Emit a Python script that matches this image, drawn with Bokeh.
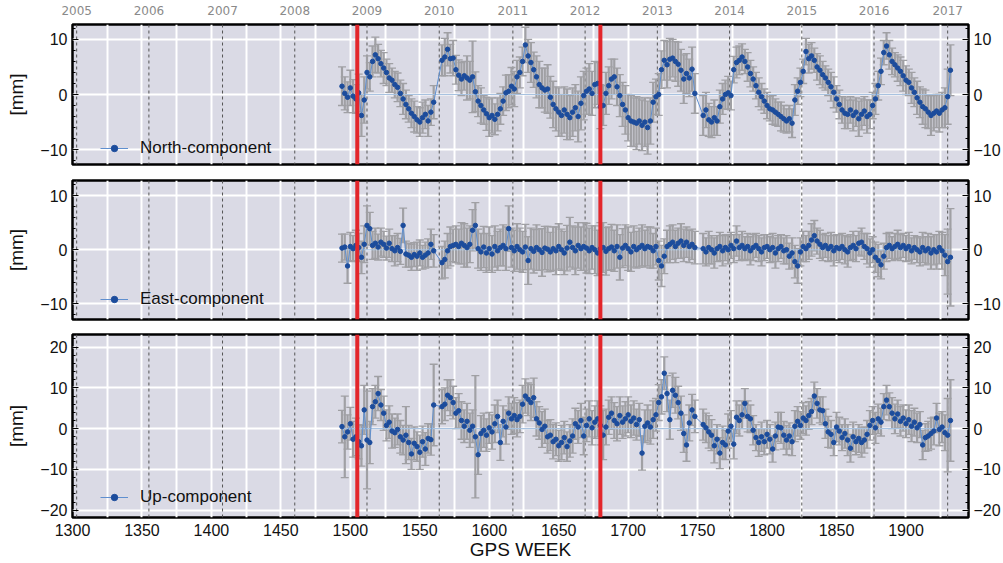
from bokeh.plotting import figure
from bokeh.layouts import column
from bokeh.models import (ColumnDataSource, Range1d, LinearAxis, Grid, SingleIntervalTicker,
                          FixedTicker, Span, Whisker, TeeHead, Legend, LegendItem)
from bokeh.embed import file_html
from bokeh.resources import INLINE

# ---------------- data ----------------
weeks = list(range(1494, 1561, 2)) + list(range(1566, 1749, 2)) + list(range(1754, 1933, 2))

north_a = [1.5, 0.2, -0.5, 1.2, -0.3, -0.8, 0.3, -3.8, -1.0, 4.0,
           3.2, 6.0, 7.2, 6.5, 5.6, 4.8, 4.0, 3.0, 2.6, 1.8,
           1.3, 0.2, -0.8, -1.8, -2.6, -3.4, -4.0, -4.6, -5.0, -4.2,
           -3.6, -4.8, -3.2, -1.4]
north_b = [6.2, 6.8, 8.2, 6.5, 6.6, 4.5, 3.5, 2.8, 3.4, 3.0,
           2.6, 3.2, 0.5, -1.2, -2.0, -2.8, -3.5, -4.2, -3.8, -4.5,
           -3.6, -2.6, -1.2, 0.3, 0.6, 1.5, 1.0, 3.2, 4.0, 6.0,
           9.0, 7.0, 5.8, 4.5, 3.2, 1.8, 1.2, 0.8, 1.0, -0.5,
           -1.8, -2.6, -3.2, -3.8, -2.8, -3.6, -4.2, -3.2, -2.4, -4.0,
           -1.6, -0.2, 0.6, 1.0, 0.2, 1.8, 2.0, -2.2, -2.0, 0.2,
           1.6, 2.8, 3.2, 1.4, -0.2, -1.8, -2.8, -4.2, -4.8, -5.0,
           -5.2, -4.8, -5.6, -5.0, -6.0, -4.8, -1.4, -0.4, 0.0, 4.5,
           6.2, 5.4, 6.4, 6.6, 6.0, 5.5, 4.4, 2.8, 3.8, 3.0,
           4.6, 0.2]
north_c = [-3.8, -2.8, -4.6, -5.0, -4.2, -4.8, -2.2, -0.8, 0.0, 0.3,
           -0.2, 4.5, 5.8, 6.2, 6.8, 6.0, 5.0, 3.8, 2.8, 1.6,
           0.4, -0.4, -1.2, -2.0, -2.6, -2.8, -3.2, -3.6, -4.0, -4.4,
           -4.8, -4.4, -5.2, -1.0, 0.6, 2.2, 4.2, 7.8, 6.5, 7.0,
           6.2, 5.0, 4.4, 3.6, 3.0, 2.2, 1.4, 0.4, -0.8, -1.8,
           -2.8, -3.4, -3.6, -2.8, -3.8, -3.2, -4.4, -3.6, -3.0, -4.0,
           -3.6, -2.0, -0.8, 1.6, 4.2, 7.6, 8.8, 7.2, 6.0, 5.4,
           4.8, 4.2, 3.4, 2.6, 2.2, 1.2, 0.4, -0.6, -1.4, -2.2,
           -2.6, -3.2, -3.8, -3.4, -3.0, -3.4, -2.8, -2.4, -0.4, 4.4]
north_err_a = [3.5, 3.0, 2.8, 3.2, 3.0, 2.6, 3.4, 3.8, 4.2, 3.0,
               2.6, 2.8, 3.2, 2.6, 2.4, 2.8, 2.4, 2.6, 2.2, 2.4,
               2.6, 2.4, 2.8, 2.6, 2.4, 2.6, 2.8, 2.4, 2.6, 2.8,
               2.6, 2.8, 2.4, 3.0]
north_err_b = [2.8, 3.4, 3.0, 2.6, 3.2, 2.6, 2.8, 3.0, 2.6, 4.0,
               3.4, 6.5, 3.6, 2.8, 3.2, 2.6, 3.0, 3.4, 3.2, 2.8,
               3.0, 2.8, 2.6, 3.2, 3.0, 3.4, 3.2, 3.0, 2.8, 2.6,
               3.2, 3.0, 3.6, 3.2, 3.8, 4.2, 3.6, 4.0, 4.4, 3.8,
               4.2, 4.0, 4.4, 3.8, 4.2, 4.6, 4.0, 4.4, 4.2, 4.6,
               4.8, 4.4, 4.2, 4.6, 4.0, 4.2, 3.8, 4.0, 3.6, 3.8,
               3.4, 3.6, 3.2, 3.4, 3.8, 4.0, 4.4, 4.2, 4.6, 4.4,
               4.8, 4.2, 4.6, 4.4, 4.8, 4.2, 3.6, 3.2, 3.8, 3.4,
               3.6, 4.2, 3.8, 3.4, 3.6, 4.0, 3.8, 4.4, 3.6, 3.4,
               4.0, 3.6]
north_err_c = [3.6, 3.2, 3.0, 2.8, 3.2, 2.6, 3.0, 2.8, 2.6, 3.0,
               2.6, 2.4, 2.8, 2.6, 2.4, 2.2, 2.6, 2.4, 2.2, 2.4,
               2.6, 2.4, 2.2, 2.4, 2.2, 2.6, 2.4, 2.2, 2.6, 2.4,
               2.2, 2.4, 2.6, 2.8, 2.4, 2.6, 2.2, 2.4, 2.6, 2.4,
               2.2, 2.4, 2.6, 2.4, 2.2, 2.4, 2.6, 2.8, 2.4, 2.6,
               2.4, 2.8, 2.6, 2.4, 2.8, 2.6, 3.2, 2.8, 2.6, 3.0,
               2.6, 2.4, 2.8, 2.6, 2.4, 2.2, 2.4, 2.6, 2.4, 2.2,
               2.4, 2.6, 2.8, 2.6, 2.4, 2.8, 2.6, 3.0, 2.8, 3.2,
               3.4, 3.0, 3.6, 3.2, 3.0, 3.4, 3.2, 3.6, 5.0, 4.6]

east_a = [0.3, 0.5, -3.0, 0.6, 0.2, 0.8, 0.4, -1.4, 1.0, 4.5,
          3.9, 0.8, 1.2, 0.5, 1.4, 1.0, 0.3, 1.2, 0.2, -0.2,
          0.4, -0.3, 4.5, -0.8, -1.0, -1.4, -0.9, -1.2, -0.6, -1.4,
          -1.0, -0.6, 1.0, -0.2]
east_b = [-2.4, -1.8, -0.2, 0.6, 0.8, 1.0, 0.6, 1.2, 0.8, 0.4,
          1.0, 3.6, 4.5, 0.2, -0.4, 0.5, -0.6, 0.2, -0.8, 0.6,
          -0.2, 0.4, 0.8, 0.2, 3.9, 0.4, -0.2, 0.6, 0.0, -0.4,
          0.5, -2.0, 0.2, -0.3, 0.4, 0.0, -0.5, 0.3, 0.1, -0.4,
          0.2, -0.2, 0.6, 0.0, -0.6, 0.3, 1.4, 0.4, -0.2, 0.8,
          0.2, 0.6, 0.3, -0.2, 0.4, 0.0, -0.6, 0.2, 0.4, -0.3,
          0.2, 0.5, -0.2, 0.6, -1.4, 0.3, 0.8, 0.2, -0.4, 0.6,
          0.0, 0.4, 0.8, 0.2, 0.6, 0.4, -0.2, 0.6, -2.0, -3.0,
          -1.2, 0.6, 1.0, 1.4, 0.6, 1.2, 1.6, 0.8, 1.4, 0.6,
          1.0, 0.4]
east_c = [0.2, -0.4, 0.4, 0.0, -0.6, 0.2, 0.6, -0.2, 0.4, 0.0,
          0.8, 0.2, 1.6, 0.4, 0.8, 0.2, 0.6, -0.2, 0.4, 0.8,
          0.2, -0.4, 0.4, 0.6, 0.0, 0.4, -0.6, 0.2, 0.6, -0.2,
          0.0, -1.2, -0.6, -2.2, -3.0, -0.4, 0.6, 0.2, 0.8, 1.8,
          2.6, 1.6, 1.0, 0.4, 0.8, 0.2, 0.6, -0.2, 0.4, 0.2,
          0.6, 0.0, -0.4, 0.4, 0.8, 0.2, 1.2, 1.4, 0.6, 0.2,
          -0.6, 0.0, -1.4, -2.0, -2.8, -1.2, 0.4, 0.8, 0.2, 0.6,
          1.0, 0.4, 0.8, 0.2, 0.6, -0.2, 0.4, 0.0, -0.4, 0.4,
          -0.2, 0.2, -0.6, 0.0, -0.4, 0.4, -0.2, -1.0, -2.2, -1.4]
east_err_a = [2.6, 2.4, 3.2, 2.6, 2.4, 2.8, 2.6, 3.0, 3.4, 3.6,
              3.0, 2.6, 2.8, 2.4, 2.6, 2.4, 2.2, 2.6, 2.4, 2.8,
              2.6, 2.4, 3.2, 2.4, 2.2, 2.4, 2.2, 2.6, 2.4, 2.2,
              2.4, 2.6, 2.8, 3.0]
east_err_b = [3.0, 3.4, 3.2, 3.6, 3.0, 3.4, 3.2, 3.8, 4.0, 3.6,
              3.4, 3.8, 4.2, 3.6, 3.4, 3.8, 3.6, 4.0, 3.4, 3.8,
              3.6, 3.4, 3.8, 4.0, 4.2, 3.6, 3.8, 4.2, 4.0, 3.8,
              4.2, 4.4, 3.8, 4.0, 4.2, 3.8, 4.4, 4.0, 4.2, 3.6,
              4.0, 4.4, 4.2, 3.8, 4.0, 4.2, 4.6, 4.0, 4.4, 4.2,
              4.0, 4.4, 4.6, 4.2, 4.0, 4.4, 4.2, 4.8, 4.6, 4.4,
              4.0, 4.2, 3.8, 4.0, 4.2, 3.6, 3.8, 4.0, 3.6, 3.8,
              3.4, 3.6, 3.8, 3.4, 3.6, 3.8, 3.2, 3.4, 3.6, 3.8,
              3.2, 3.0, 3.4, 3.2, 3.0, 2.8, 3.2, 3.0, 2.8, 3.0,
              2.8, 3.0]
east_err_c = [2.8, 2.6, 3.0, 2.6, 2.8, 2.4, 2.6, 2.8, 2.4, 2.6,
              2.4, 2.6, 2.8, 2.4, 2.6, 2.2, 2.4, 2.6, 2.4, 2.2,
              2.4, 2.6, 2.4, 2.2, 2.4, 2.6, 2.8, 2.4, 2.2, 2.4,
              2.6, 2.4, 2.8, 3.0, 3.2, 2.6, 2.8, 2.4, 2.6, 3.0,
              2.8, 2.4, 2.6, 2.4, 2.2, 2.4, 2.6, 2.8, 2.4, 2.6,
              2.4, 2.6, 2.8, 2.4, 2.6, 2.4, 2.2, 2.6, 2.4, 2.8,
              2.6, 2.4, 2.8, 3.0, 2.6, 2.4, 2.6, 2.4, 2.2, 2.4,
              2.6, 2.4, 2.2, 2.4, 2.6, 2.4, 2.2, 2.4, 2.6, 2.8,
              2.6, 2.8, 3.0, 2.8, 3.2, 3.0, 3.4, 3.8, 6.0, 9.0]

up_a = [0.5, -2.0, -0.8, 1.2, -2.6, -2.0, -3.2, -4.2, 4.6, -2.8,
        -3.4, 5.4, 6.6, 8.6, 5.8, 3.8, 0.8, 1.6, -0.6, -1.0,
        -0.2, -2.0, -2.8, -1.6, -3.4, -6.2, -3.6, -4.4, -5.8, -3.2,
        -5.0, -2.4, -2.7, 5.8]
up_b = [5.4, 6.0, 8.2, 7.6, 6.4, 3.8, 4.4, 2.0, 0.6, 1.8,
        -0.4, 0.6, -2.0, -6.4, -1.2, -0.4, -1.6, 0.2, -0.8, 1.2,
        3.0, -3.4, 1.8, 0.4, 3.8, 2.4, 3.2, 2.2, 3.0, 6.0,
        8.0, 7.2, 6.4, 7.6, 2.4, 1.4, -0.2, 0.6, -2.0, -1.6,
        -3.2, -2.6, -4.2, -3.4, -2.2, -4.4, -3.0, -1.8, 1.2, 0.4,
        2.0, -1.8, 0.8, 2.4, 0.2, 1.6, 2.4, 0.8, -1.6, 0.4,
        2.8, 3.8, 2.0, 1.2, 3.2, 1.6, 2.4, 3.4, 1.8, 2.6,
        1.0, 2.2, -6.0, 0.6, 1.4, 0.4, 2.2, 3.4, 6.4, 7.8,
        13.6, 8.6, 2.2, 9.4, 8.2, 6.4, 3.8, -1.2, -4.0, 1.4,
        4.6, 3.0]
up_c = [1.0, 0.2, -0.8, -1.6, -4.2, -2.6, -6.0, -3.4, -4.0, -0.6,
        0.6, -3.8, 2.8, 2.0, 3.4, 6.2, 3.0, 2.4, -0.4, -2.2,
        -3.4, -2.0, -3.2, -1.4, -2.6, -5.0, -1.8, 0.4, 0.2, -1.6,
        -2.8, -1.8, -3.2, 0.6, 1.8, 0.8, 2.6, 2.0, 3.2, 4.2,
        8.0, 6.2, 4.6, 4.4, 1.2, -0.8, -1.4, -3.4, 0.4, -0.6,
        -2.2, -1.2, -2.8, -4.8, -2.0, -3.2, -2.4, -3.4, -2.8, -1.4,
        0.8, 2.0, 0.2, 2.4, 1.6, 5.4, 7.0, 5.4, 3.8, 2.4,
        3.6, 1.8, 2.6, 1.2, 2.2, 0.6, 1.6, 0.2, 1.0, -4.0,
        -2.2, -1.8, -1.2, -0.6, 2.6, -0.2, 0.4, -1.0, -1.6, 2.0]
up_err_a = [4.0, 10.0, 4.2, 4.0, 4.4, 4.6, 4.2, 5.0, 6.0, 12.0,
            5.2, 4.4, 4.0, 4.2, 3.8, 4.2, 3.8, 4.0, 4.2, 3.6,
            3.8, 4.0, 3.6, 7.0, 4.2, 3.8, 4.0, 3.6, 4.2, 3.8,
            4.0, 3.6, 3.8, 10.0]
up_err_b = [4.2, 4.0, 3.8, 4.4, 4.0, 3.8, 4.2, 4.6, 4.0, 4.4,
            4.2, 4.0, 15.0, 4.8, 4.4, 4.2, 4.0, 3.8, 4.2, 4.6,
            4.0, 4.4, 3.8, 4.2, 4.0, 3.8, 4.4, 4.2, 4.0, 4.6,
            4.2, 4.0, 4.4, 4.8, 4.2, 4.0, 4.4, 4.2, 4.0, 3.8,
            4.2, 4.0, 3.8, 4.2, 4.0, 3.6, 4.0, 4.2, 3.8, 4.0,
            4.2, 4.6, 4.0, 4.4, 4.2, 4.0, 4.4, 4.8, 6.0, 4.4,
            4.2, 4.0, 4.4, 4.2, 4.6, 4.0, 4.2, 4.4, 4.0, 4.2,
            3.8, 4.0, 4.2, 4.0, 4.4, 4.2, 4.6, 4.0, 4.4, 4.2,
            4.0, 4.4, 4.8, 4.2, 4.4, 4.0, 4.2, 4.6, 4.0, 4.4,
            3.8, 4.0]
up_err_c = [3.8, 3.6, 4.0, 3.8, 4.2, 3.6, 3.8, 4.0, 3.6, 4.2,
            3.8, 3.6, 4.0, 3.8, 3.4, 3.6, 3.8, 3.4, 3.6, 3.2,
            3.4, 3.6, 3.2, 3.4, 3.6, 3.2, 3.4, 3.6, 3.8, 3.4,
            3.6, 3.2, 3.4, 3.8, 3.6, 3.4, 3.8, 3.6, 3.4, 3.2,
            3.4, 3.6, 3.2, 3.4, 3.6, 3.8, 3.4, 3.2, 3.6, 3.4,
            3.2, 3.6, 3.8, 3.4, 3.6, 3.2, 3.4, 3.6, 3.2, 3.4,
            3.6, 3.4, 3.8, 3.6, 3.4, 3.2, 3.6, 3.4, 3.8, 3.6,
            3.4, 3.6, 3.2, 3.4, 3.6, 3.8, 3.4, 3.6, 3.2, 3.6,
            3.4, 3.6, 3.8, 3.4, 3.6, 4.0, 3.8, 4.4, 9.0, 10.0]

north = north_a + north_b + north_c
north_err = north_err_a + north_err_b + north_err_c
east = east_a + east_b + east_c
east_err = east_err_a + east_err_b + east_err_c
up = up_a + up_b + up_c
up_err = up_err_a + up_err_b + up_err_c

year_weeks = [1303, 1355, 1408, 1460, 1512, 1564, 1617, 1669, 1721, 1773, 1825, 1877, 1930]
year_labels = ["2005", "2006", "2007", "2008", "2009", "2010", "2011", "2012",
               "2013", "2014", "2015", "2016", "2017"]
event_weeks = [1505, 1680]

# ---------------- style ----------------
BG = "#dadae5"
ERR = "#a0a0a4"
PT = "#1c4c9c"
LN = "#5f8fcf"
ZERO = "#a8c2e0"
FONT = "Liberation Sans"

xr = Range1d(1300, 1945)


def make_panel(name, vals, errs, yrange, yint, height, top_b, bot_b, leg_y,
               top_axis=False, bottom_axis=False):
    n = min(len(weeks), len(vals), len(errs))
    xs = weeks[:n]
    ys = vals[:n]
    es = errs[:n]
    src = ColumnDataSource(dict(x=xs, y=ys,
                                up=[v + e for v, e in zip(ys, es)],
                                lo=[v - e for v, e in zip(ys, es)]))
    p = figure(width=1003, height=height, x_range=xr, y_range=Range1d(*yrange),
               x_axis_location=None, y_axis_location=None,
               output_backend="svg", toolbar_location=None,
               min_border_left=72, min_border_right=33,
               min_border_top=top_b, min_border_bottom=bot_b,
               background_fill_color=BG, border_fill_color="white",
               outline_line_color="black", outline_line_width=2.5)
    p.center = [r for r in p.center if not isinstance(r, Grid)]

    p.add_layout(Grid(dimension=0, ticker=SingleIntervalTicker(interval=25),
                      grid_line_color="white", grid_line_width=2), "center")
    p.add_layout(Grid(dimension=1, ticker=SingleIntervalTicker(interval=yint),
                      grid_line_color="white", grid_line_width=2), "center")

    for yw in year_weeks:
        p.add_layout(Span(location=yw, dimension="height", line_color="#555555",
                          line_width=1, line_dash="3 3", level="underlay"))

    wh = Whisker(source=src, base="x", upper="up", lower="lo", dimension="height",
                 line_color=ERR, line_width=2.2, level="underlay",
                 upper_head=TeeHead(size=8, line_color=ERR, line_width=1.3),
                 lower_head=TeeHead(size=8, line_color=ERR, line_width=1.3))
    p.add_layout(wh)

    p.line(x=[xs[0], xs[-1]], y=[0, 0], line_color=ZERO, line_width=1.2)
    lr = p.line("x", "y", source=src, line_color=LN, line_width=1)
    sr = p.scatter("x", "y", source=src, size=4.5, fill_color=PT, line_color=PT)

    for ew in event_weeks:
        p.add_layout(Span(location=ew, dimension="height", line_color="#e3262b",
                          line_width=4))

    def yaxis(label):
        ax = LinearAxis(ticker=SingleIntervalTicker(interval=yint, num_minor_ticks=5))
        ax.axis_line_color = None
        ax.major_tick_in = 6
        ax.major_tick_out = 0
        ax.minor_tick_in = 3
        ax.minor_tick_out = 0
        ax.major_tick_line_color = "black"
        ax.minor_tick_line_color = "black"
        ax.major_label_text_font = FONT
        ax.major_label_text_font_size = "16px"
        ax.major_label_text_color = "#111111"
        ax.major_label_standoff = 5
        if label:
            ax.axis_label = label
            ax.axis_label_text_font = FONT
            ax.axis_label_text_font_size = "19px"
            ax.axis_label_text_font_style = "normal"
            ax.axis_label_text_color = "#111111"
            ax.axis_label_standoff = 10
        return ax

    p.add_layout(yaxis("[mm]"), "left")
    p.add_layout(yaxis(None), "right")

    if top_axis:
        ta = LinearAxis(ticker=FixedTicker(ticks=year_weeks),
                        major_label_overrides={w: l for w, l in zip(year_weeks, year_labels)})
        ta.axis_line_color = None
        ta.major_tick_line_color = None
        ta.minor_tick_line_color = None
        ta.major_tick_in = 0
        ta.major_tick_out = 0
        ta.minor_tick_in = 0
        ta.minor_tick_out = 0
        ta.major_label_text_font = "DejaVu Sans"
        ta.major_label_text_font_size = "12px"
        ta.major_label_text_color = "#8a8a8a"
        ta.major_label_standoff = 10
        p.add_layout(ta, "above")

    if bottom_axis:
        ba = LinearAxis(ticker=SingleIntervalTicker(interval=50, num_minor_ticks=0))
        ba.axis_line_color = None
        ba.major_tick_line_color = None
        ba.minor_tick_line_color = None
        ba.major_tick_in = 0
        ba.major_tick_out = 0
        ba.major_label_text_font = FONT
        ba.major_label_text_font_size = "16px"
        ba.major_label_text_color = "#111111"
        ba.major_label_standoff = 6
        ba.axis_label = "GPS WEEK"
        ba.axis_label_text_font = FONT
        ba.axis_label_text_font_size = "19px"
        ba.axis_label_text_font_style = "normal"
        ba.axis_label_text_color = "#111111"
        ba.axis_label_standoff = 0
        p.add_layout(ba, "below")

    leg = Legend(items=[LegendItem(label=name, renderers=[lr, sr])],
                 location=(28, leg_y), padding=0, margin=0,
                 background_fill_alpha=0, border_line_alpha=0,
                 label_text_font=FONT, label_text_font_size="17px",
                 label_text_color="#111111",
                 glyph_width=28, glyph_height=16, label_standoff=12, label_height=16)
    p.add_layout(leg)
    return p


p1 = make_panel("North-component", north, north_err, (-12.7, 12.7), 10, 172, 24, 8, 6, top_axis=True)
p2 = make_panel("East-component", east, east_err, (-12.9, 12.8), 10, 155, 8, 8, 10)
p3 = make_panel("Up-component", up, up_err, (-21.8, 23.1), 10, 236, 7, 46, 10, bottom_axis=True)

layout = column(p1, p2, p3, spacing=0)
open("out.html", "w").write(file_html(layout, INLINE))
